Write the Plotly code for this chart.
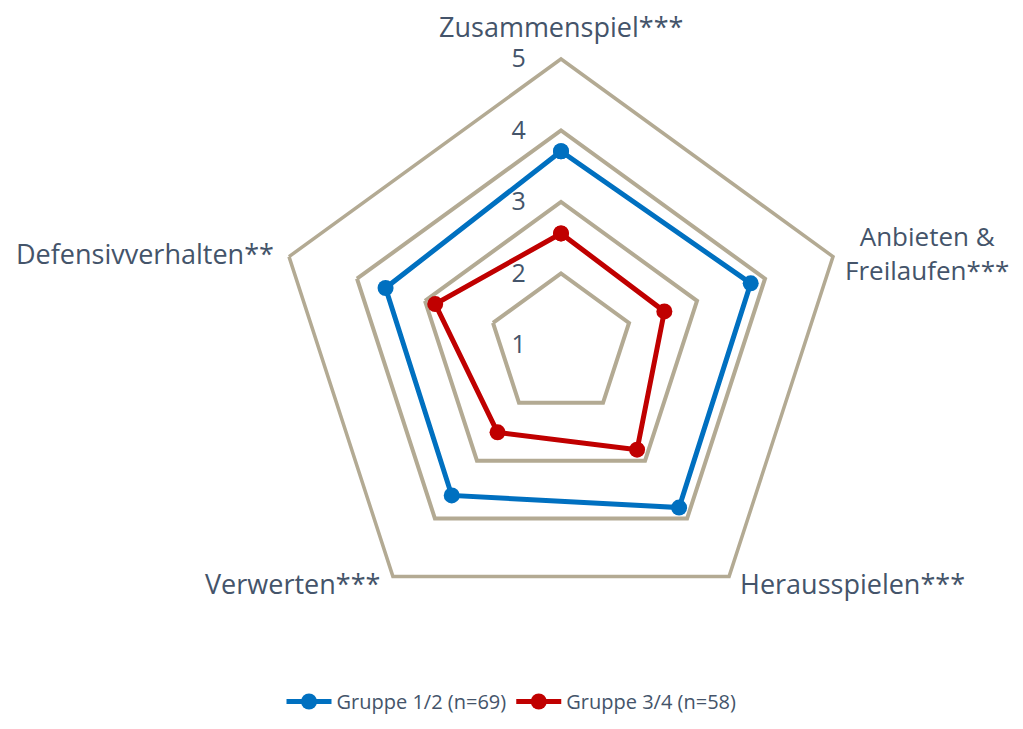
import plotly.graph_objects as go

categories = ["Zusammenspiel***", "Anbieten & Freilaufen***", "Herausspielen***",
              "Verwerten***", "Defensivverhalten**"]
group12 = [3.71, 3.79, 3.81, 3.60, 3.58]
group34 = [2.56, 2.52, 2.81, 2.51, 2.85]
series_names = ["Gruppe 1/2 (n=69)", "Gruppe 3/4 (n=58)"]
tick_vals = [1, 2, 3, 4, 5]

TEXT = "#44546A"
GRID = "#B3AA93"
FONT = "Open Sans"

# page body has an 8px margin; keep the figure inside the 1023x729 window
OFF = 8
W, H = 1023 - 2 * OFF, 729 - 2 * OFF
cx, cy, R = 561 - OFF, 345 - OFF, 286

fig = go.Figure()
for name, vals, col in [(series_names[0], group12, "#0070C0"),
                        (series_names[1], group34, "#C00000")]:
    fig.add_trace(go.Scatterpolar(
        r=vals + vals[:1], theta=categories + categories[:1],
        mode="lines+markers", name=name,
        line=dict(color=col, width=5),
        marker=dict(color=col, size=16),
    ))

fig.update_layout(
    width=W, height=H,
    margin=dict(l=0, r=0, t=0, b=0),
    paper_bgcolor="white", plot_bgcolor="white",
    font=dict(family=FONT, color=TEXT),
    polar=dict(
        domain=dict(x=[(cx - R) / W, (cx + R) / W],
                    y=[1 - (cy + R) / H, 1 - (cy - R) / H]),
        bgcolor="white",
        gridshape="linear",
        radialaxis=dict(range=[1, 5], tickvals=tick_vals, angle=90, tickangle=90,
                        side="counterclockwise", showline=False,
                        ticks="outside", ticklen=26, tickcolor="rgba(0,0,0,0)",
                        gridcolor=GRID, gridwidth=3.5,
                        tickfont=dict(size=25, color=TEXT, family=FONT)),
        angularaxis=dict(rotation=90, direction="clockwise", showgrid=False,
                         showticklabels=False, ticks="",
                         showline=True, linecolor=GRID, linewidth=3.5),
    ),
    legend=dict(orientation="h", x=0.5, xanchor="center", y=0,
                yanchor="bottom", itemwidth=45,
                font=dict(size=20, color=TEXT, family=FONT)),
)

labels = [
    ("Zusammenspiel***", 561, 26, 27),
    ("Anbieten &<br>Freilaufen***", 927, 253, 26),
    ("Herausspielen***", 852, 583, 27),
    ("Verwerten***", 292, 583, 27),
    ("Defensivverhalten**", 145, 253, 27),
]
for text, x, y, size in labels:
    fig.add_annotation(text=text, x=(x - OFF) / W, y=1 - (y - OFF) / H,
                       xref="paper", yref="paper",
                       showarrow=False, xanchor="center", yanchor="middle", align="center",
                       font=dict(size=size, color=TEXT, family=FONT))

fig.write_html("out.html")
